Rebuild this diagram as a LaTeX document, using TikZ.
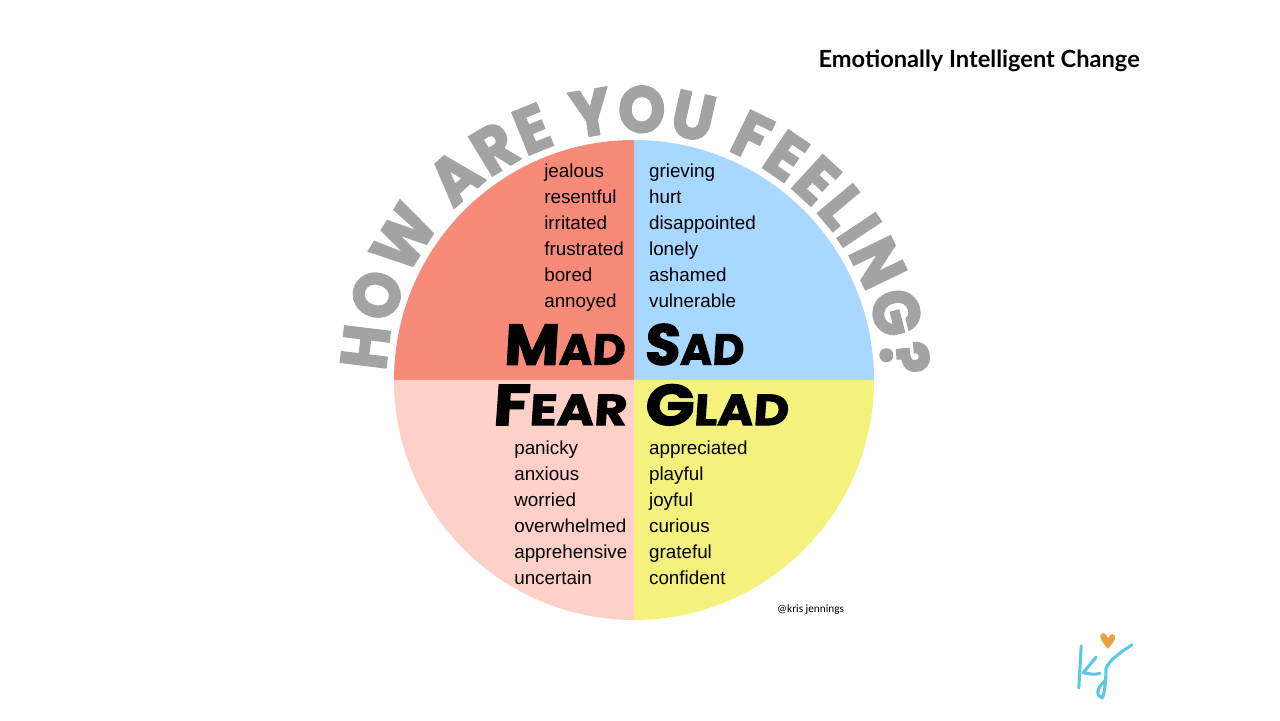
\documentclass[tikz,border=0pt]{standalone}
\usepackage{fontspec}
\setmainfont{Liberation Sans}
\newfontfamily\titlefont{Lato}
\newfontfamily\brushfont[FakeBold=2,FakeSlant=0.06]{Poppins}
\newfontfamily\arcfont[FakeBold=3,FakeStretch=0.92]{Poppins}
\newfontfamily\creditfont{Carlito}
\usetikzlibrary{
  decorations.text
}
\definecolor{madred}{RGB}{247,138,120}
\definecolor{sadblue}{RGB}{168,216,255}
\definecolor{fearpink}{RGB}{255,208,200}
\definecolor{gladyellow}{RGB}{244,242,124}
\definecolor{arcgray}{RGB}{163,163,163}
\definecolor{logoblue}{RGB}{92,200,230}
\definecolor{logoorange}{RGB}{236,160,70}
\newcommand{\bigsmall}[2]{{\fontsize{41}{41}\selectfont #1}{\fontsize{31}{31}\selectfont #2}}

\begin{document}
\begin{tikzpicture}[
  every node/.style={inner sep=0pt},
  wordlist/.style={anchor=north west, align=left, font=\fontsize{13.4}{18.43}\selectfont},
  heading/.style={font=\brushfont\bfseries, anchor=base west, transform shape},
]
\useasboundingbox (0,0) rectangle (32,18);
\fill[white] (0,0) rectangle (32,18);

% the four quarters
\coordinate (c) at (15.85,8.5);
\fill[madred] (c) -- +(180:6) arc (180:90:6) -- cycle;
\fill[sadblue] (c) -- +(90:6) arc (90:0:6) -- cycle;
\fill[gladyellow] (c) -- +(0:6) arc (0:-90:6) -- cycle;
\fill[fearpink] (c) -- +(-90:6) arc (-90:-180:6) -- cycle;

% curved heading
\path[decorate, decoration={text along path, text align=fit to path,
    text={|\fontsize{46}{46}\arcfont\bfseries\color{arcgray}|HOW ARE YOU FEELING?}}]
  (c) ++(178:6.2) arc (178:1:6.2);

\node[heading, xscale=1.04] (mad) at (12.58,8.88) {\bigsmall{M}{AD}};
\node[heading] (sad) at (16.1,8.88) {\bigsmall{S}{AD}};
\node[heading, xscale=1.16] (fear) at (12.3,7.37) {\bigsmall{F}{EAR}};
\node[heading, xscale=1.12] (glad) at (16.1,7.37) {\bigsmall{G}{LAD}};

\node[wordlist] (madlist) at (13.6,13.9) {jealous\\resentful\\irritated\\frustrated\\bored\\annoyed};
\node[wordlist] (sadlist) at (16.22,13.9) {grieving\\hurt\\disappointed\\lonely\\ashamed\\vulnerable};
\node[wordlist] (fearlist) at (12.85,6.98) {panicky\\anxious\\worried\\overwhelmed\\apprehensive\\uncertain};
\node[wordlist] (gladlist) at (16.22,6.98) {appreciated\\playful\\joyful\\curious\\grateful\\confident};

\node[anchor=base east, font=\titlefont\bfseries\fontsize{16.8}{18}\selectfont] (title) at (28.5,16.32) {Emotionally Intelligent Change};
\node[anchor=base west, font=\creditfont\fontsize{8}{10}\selectfont] (credit) at (19.42,2.7) {@kris jennings};

% logo
\draw[logoblue, line width=2.2pt, line cap=round, line join=round]
  (27.03,1.85) -- (26.97,0.8)
  (27.4,1.57) -- (27.08,1.18) .. controls (27.25,1.15) and (27.4,1.12) .. (27.5,1.17);
\draw[logoblue, line width=2.2pt, line cap=round, line join=round]
  (28.3,1.88) .. controls (27.95,1.65) and (27.75,1.5) .. (27.65,1.3)
  .. controls (27.65,0.9) and (27.6,0.6) .. (27.55,0.55)
  .. controls (27.4,0.6) and (27.4,0.8) .. (27.65,1.0);
\fill[logoorange] (27.7,1.78) .. controls (27.5,2.0) and (27.45,2.15) .. (27.56,2.17)
  .. controls (27.65,2.18) and (27.68,2.1) .. (27.7,2.05)
  .. controls (27.75,2.18) and (27.88,2.18) .. (27.88,2.05)
  .. controls (27.88,2.0) and (27.78,1.88) .. (27.7,1.78);
\end{tikzpicture}
\end{document}
